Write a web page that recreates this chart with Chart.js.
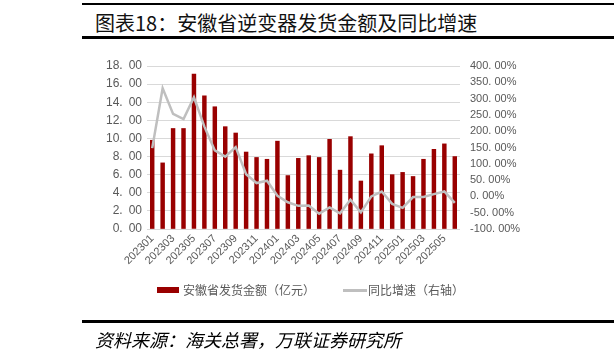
<!DOCTYPE html>
<html>
<head>
<meta charset="utf-8">
<script src="https://cdn.jsdelivr.net/npm/chart.js@4.4.1/dist/chart.umd.min.js"></script>
<style>
  html, body { margin: 0; padding: 0; background: #fff; }
  #wrap { position: relative; width: 614px; height: 358px; overflow: hidden; background: #fff; }
  #c { position: absolute; left: 0; top: 0; }
  .hl { position: absolute; background: #000; }
  .txt { position: absolute; white-space: nowrap; }
</style>
</head>
<body>
<div id="wrap">
  <div class="hl" style="left:82px; top:3px; width:532px; height:2px;"></div>
  <div class="txt" id="title" style="left:95px; top:8px; font: 20px 'Noto Sans CJK SC'; color:#111;">图表18：安徽省逆变器发货金额及同比增速</div>
  <div class="hl" style="left:82px; top:36px; width:532px; height:3px;"></div>
  <canvas id="c" width="614" height="358"></canvas>
  <div style="position:absolute; left:157px; top:287px; width:22px; height:6px; background:#990000;"></div>
  <div class="txt" style="left:183px; top:281px; font: 12px 'Noto Sans CJK SC'; color:#595959;">安徽省发货金额（亿元）</div>
  <div style="position:absolute; left:343px; top:289px; width:24px; height:3px; background:#BFBFBF;"></div>
  <div class="txt" style="left:368px; top:281px; font: 12px 'Noto Sans CJK SC'; color:#595959;">同比增速（右轴）</div>
  <div class="hl" style="left:82px; top:320px; width:532px; height:3px;"></div>
  <div class="txt" style="left:95px; top:326px; font: italic 18px 'Noto Sans CJK SC'; color:#000;">资料来源：海关总署，万联证券研究所</div>
</div>
<script>
const months = ["202301","202302","202303","202304","202305","202306","202307","202308","202309","202310",
  "202311","202312","202401","202402","202403","202404","202405","202406","202407","202408",
  "202409","202410","202411","202412","202501","202502","202503","202504","202505","202506"];
const amount = [9.8,7.3,11.1,11.1,17.1,14.7,13.5,11.3,10.6,8.5,
  7.9,7.7,9.7,5.9,7.8,8.1,7.9,9.9,6.5,10.2,
  5.3,8.3,9.2,6.0,6.25,5.8,7.7,8.8,9.4,8.0];
const yoy = [148,332,253,237,304,214,141,122,151,68,
  41,48,2,-18,-29,-28,-53,-34,-52,-10,
  -49,0,15,-23,-35,-2,-2,7,15,-20];
const leftTicks = [0,2,4,6,8,10,12,14,16,18];
const rightTicks = [-100,-50,0,50,100,150,200,250,300,350,400];

const tickFont = { family: "'Liberation Sans', Arial, sans-serif", size: 11 };
const tickColor = '#595959';

new Chart(document.getElementById('c'), {
  data: {
    labels: months,
    datasets: [
      { type: 'line', label: '同比增速（右轴）', data: yoy, yAxisID: 'y1',
        borderColor: '#BFBFBF', borderWidth: 2.5, pointRadius: 0, tension: 0, order: 0 },
      { type: 'bar', label: '安徽省发货金额（亿元）', data: amount, yAxisID: 'y',
        backgroundColor: '#990000', barThickness: 3.8, order: 1 }
    ]
  },
  options: {
    responsive: false,
    animation: false,
    layout: { padding: { left: 0, right: 0, top: 66, bottom: 0 } },
    plugins: { legend: { display: false }, tooltip: { enabled: false }, title: { display: false } },
    scales: {
      x: {
        grid: { display: false, drawTicks: false },
        border: { display: false },
        ticks: {
          autoSkip: false, maxRotation: 45, minRotation: 45, padding: 3,
          font: tickFont, color: tickColor,
          callback: function(v, i) { return i % 2 === 0 ? months[i] : ''; }
        },
        afterFit: function(s) { s.height = 129; }
      },
      y: {
        position: 'left', min: 0, max: 18,
        afterBuildTicks: function(s) { s.ticks = leftTicks.map(v => ({ value: v })); },
        grid: { color: '#D9D9D9', lineWidth: 1, drawTicks: false },
        border: { display: false },
        ticks: { padding: 5, font: { family: "'Liberation Sans', Arial, sans-serif", size: 12 }, color: tickColor,
          callback: v => v.toFixed(2).replace('.', '.\u2002') },
        afterFit: function(s) { s.width = 147; }
      },
      y1: {
        position: 'right', min: -100, max: 400,
        afterBuildTicks: function(s) { s.ticks = rightTicks.map(v => ({ value: v })); },
        grid: { display: false, drawTicks: false },
        border: { display: false },
        ticks: { padding: 10, font: tickFont, color: tickColor,
          callback: v => v.toFixed(2).replace('.', '. ') + '%' },
        afterFit: function(s) { s.width = 154; }
      }
    }
  }
});
</script>
</body>
</html>
